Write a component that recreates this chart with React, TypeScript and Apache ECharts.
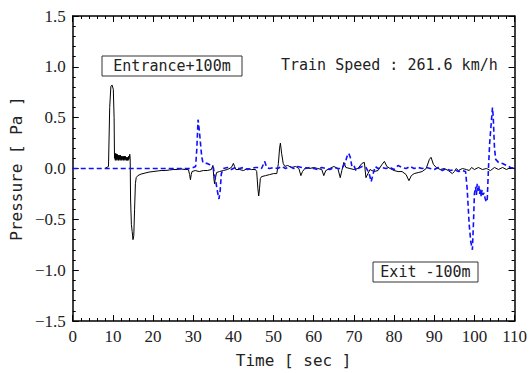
import React, { useEffect, useRef } from "react";
import * as echarts from "echarts";

// Entrance +100m (black solid) : [time sec, pressure Pa]
const entranceSeries: [number, number][] = [
  [8, 0], [8.9, 0.02], [9.2, 0.6], [9.5, 0.81], [9.8, 0.82], [10.1, 0.78], [10.3, 0.5], [10.4, 0.1],
  [10.5, 0.14], [10.6, 0.08], [10.7, 0.15], [10.8, 0.09], [10.9, 0.14], [11.0, 0.08], [11.1, 0.14], [11.2, 0.09],
  [11.3, 0.13], [11.4, 0.08], [11.5, 0.13], [11.6, 0.09], [11.7, 0.13], [11.8, 0.08], [11.9, 0.13], [12.0, 0.09],
  [12.1, 0.12], [12.2, 0.08], [12.3, 0.12], [12.4, 0.09], [12.5, 0.12], [12.6, 0.08], [12.7, 0.12], [12.8, 0.09],
  [12.9, 0.12], [13.0, 0.08], [13.1, 0.12], [13.2, 0.09], [13.3, 0.11], [13.4, 0.08], [13.5, 0.11], [13.6, 0.08],
  [13.7, 0.11], [13.8, 0.08], [13.9, 0.12], [14.0, 0.09], [14.2, 0.14], [14.3, 0.1],
  [14.4, -0.3], [14.6, -0.55], [14.8, -0.62], [15.0, -0.7], [15.2, -0.66], [15.4, -0.4], [15.6, -0.15],
  [15.8, -0.09], [16.2, -0.07], [17, -0.055], [18, -0.045], [19, -0.035], [20, -0.03], [21, -0.025],
  [22, -0.02], [23, -0.02], [24, -0.015], [25, -0.01], [26, -0.01], [27, -0.005], [28, -0.01], [28.8, -0.01],
  [29.1, -0.06], [29.3, -0.11], [29.5, -0.06], [29.7, -0.03], [30.5, -0.02], [31.5, -0.03], [32.5, -0.02],
  [33.5, -0.02], [34.5, -0.01], [34.9, 0.03], [35.1, -0.08], [35.3, -0.15], [35.5, -0.1], [35.8, -0.04],
  [36.5, -0.03], [37.5, -0.02], [38.5, -0.01], [39.5, 0.01], [40, 0.05], [40.3, 0.02], [40.6, -0.01],
  [41.5, -0.01], [42.5, -0.02], [43.5, 0], [44.5, -0.01], [45.5, -0.01], [45.8, -0.03], [46.1, -0.2],
  [46.3, -0.27], [46.5, -0.2], [46.7, -0.1], [47, -0.08], [48, -0.07], [49, -0.06], [50, -0.05], [50.8, -0.05],
  [51.2, 0.05], [51.5, 0.2], [51.7, 0.25], [52, 0.15], [52.4, 0.05], [52.8, 0.02], [53.5, 0.03], [54.5, 0.01],
  [55.5, 0.02], [56.3, 0], [56.8, -0.07], [57.2, -0.03], [58, 0.01], [59, 0], [60, 0.01], [61, 0], [62, -0.01],
  [62.5, -0.07], [63, -0.02], [64, 0], [65, 0.02], [66, 0], [66.6, -0.09], [67, -0.02], [67.5, 0.06], [68, 0.01],
  [69, 0], [70, -0.01], [71, 0], [72, 0.05], [72.6, 0.06], [73, -0.09], [73.5, -0.05], [74, -0.01], [75, -0.03],
  [76, -0.02], [77, 0.04], [77.6, 0.07], [78.2, 0.02], [79, 0], [80, -0.02], [81, -0.03], [82, -0.03],
  [83, -0.06], [83.7, -0.12], [84.3, -0.07], [85, -0.05], [86, -0.04], [87, -0.03], [88, 0], [88.8, 0.09],
  [89.2, 0.11], [89.8, 0.04], [90.5, 0.01], [91.5, -0.01], [92.5, 0], [93.5, -0.02], [94.5, -0.05], [95, -0.03],
  [95.5, 0], [96, -0.02], [97, 0], [98, -0.01], [98.7, -0.02], [99.3, 0.01], [100, -0.01], [101, 0.01],
  [102, -0.01], [103, 0], [104, -0.02], [105, 0.01], [106, -0.01], [107, 0.01], [108, -0.01], [109, 0.01], [110, 0],
];

// Exit -100m (blue dashed) : [time sec, pressure Pa]
const exitSeries: [number, number][] = [
  [0, 0], [29, 0], [30, 0.01], [30.6, 0.02], [30.9, 0.2], [31.2, 0.48], [31.5, 0.38], [31.8, 0.25], [32.1, 0.12],
  [32.4, 0.06], [33, 0.05], [33.5, 0.05], [34, 0.04], [34.5, 0.03], [35, 0.01], [35.5, -0.1], [36, -0.22],
  [36.4, -0.3], [36.7, -0.22], [37, -0.05], [37.5, 0.0], [38.5, 0.01], [39.5, -0.01], [40.5, 0.01], [41.5, 0],
  [42.5, 0.01], [43.5, -0.01], [44.5, 0], [45.5, 0.01], [46.5, 0.01], [47, 0.0], [47.8, 0.07], [48.3, 0.01],
  [49, 0], [50, 0.01], [51, 0.0], [52, 0.02], [53, 0.0], [54, 0.02], [55, 0.0], [56, 0.02], [57, 0.01], [58, 0.0],
  [59, 0.01], [60, 0.0], [61, -0.01], [62, 0.01], [63, 0], [64, -0.01], [65, 0.01], [66, 0.0], [67, 0.0],
  [67.8, 0.05], [68.3, 0.12], [68.7, 0.15], [69.1, 0.11], [69.5, 0.02], [70, 0.03], [70.5, -0.02], [71, 0],
  [72, 0.02], [73, 0.01], [73.8, -0.05], [74.3, -0.13], [74.8, -0.05], [75.3, 0.02], [76, 0.0], [77, 0.01],
  [78, 0.0], [79, 0.01], [80, -0.01], [81, 0.03], [82, 0.01], [83, 0], [84, 0.02], [85, 0.0], [86, 0.01],
  [87, 0.0], [88, 0.01], [89, 0], [90, -0.01], [91, 0.01], [92, -0.02], [93, 0.0], [94, -0.02], [95, -0.01],
  [96, -0.03], [97, -0.02], [97.8, -0.03], [98.2, -0.2], [98.7, -0.55], [99.1, -0.72], [99.5, -0.8],
  [99.8, -0.5], [100, -0.25], [100.3, -0.18], [100.5, -0.26], [100.7, -0.15], [100.9, -0.22], [101.1, -0.17],
  [101.3, -0.25], [101.5, -0.2], [101.7, -0.28], [101.9, -0.21], [102.1, -0.26], [102.4, -0.24], [102.7, -0.3],
  [103, -0.33], [103.2, -0.3], [103.5, 0.0], [103.8, 0.25], [104.2, 0.45], [104.5, 0.6], [104.7, 0.5],
  [105, 0.2], [105.3, 0.09], [106, 0.06], [107, 0.05], [108, 0.03], [109, 0.01], [110, 0],
];

const xRange = { min: 0, max: 110, interval: 10 };
const yRange = { min: -1.5, max: 1.5, interval: 0.5 };
const labels = {
  entrance: "Entrance+100m",
  exit: "Exit -100m",
  speed: "Train Speed : 261.6 km/h",
  xName: "Time [ sec ]",
  yName: "Pressure [ Pa ]",
};

const MONO = "DejaVu Sans Mono";
const SERIF = "Liberation Serif";

export default function App() {
  const ref = useRef<HTMLDivElement>(null);
  useEffect(() => {
    if (!ref.current) return;
    const chart = echarts.init(ref.current, undefined, { renderer: "svg" });
    const axisCommon = {
      type: "value" as const,
      axisLine: { show: true, onZero: false, lineStyle: { color: "#000", width: 1.5 } },
      axisTick: { show: true, inside: true, length: 6, lineStyle: { color: "#000", width: 1 } },
      minorTick: { show: true, splitNumber: 5, length: 3, lineStyle: { color: "#000", width: 1 } },
      splitLine: { show: false },
    };
    chart.setOption({
      animation: false,
      backgroundColor: "#fff",
      grid: { left: 72, right: 13, top: 16, bottom: 50 },
      xAxis: [
        {
          ...axisCommon,
          ...xRange,
          position: "bottom",
          axisLabel: { color: "#222", fontFamily: SERIF, fontSize: 17, margin: 7 },
          name: labels.xName,
          nameLocation: "middle",
          nameGap: 31,
          nameTextStyle: { color: "#222", fontFamily: MONO, fontSize: 16 },
        },
        { ...axisCommon, ...xRange, position: "top", axisLabel: { show: false } },
      ],
      yAxis: [
        {
          ...axisCommon,
          ...yRange,
          position: "left",
          axisLabel: {
            color: "#222",
            fontFamily: SERIF,
            fontSize: 17,
            margin: 7,
            formatter: (v: number) => (v < 0 ? "\u2212" + Math.abs(v).toFixed(1) : v.toFixed(1)),
          },
          name: labels.yName,
          nameLocation: "middle",
          nameGap: 46,
          nameTextStyle: { color: "#222", fontFamily: MONO, fontSize: 16 },
        },
        { ...axisCommon, ...yRange, position: "right", axisLabel: { show: false } },
      ],
      series: [
        {
          type: "line",
          data: entranceSeries,
          showSymbol: false,
          lineStyle: { color: "#000", width: 1 },
          itemStyle: { color: "#000" },
          z: 2,
        },
        {
          type: "line",
          data: exitSeries,
          showSymbol: false,
          lineStyle: { color: "#1010ff", width: 1.6, type: [5, 3] },
          itemStyle: { color: "#1010ff" },
          z: 3,
        },
      ],
      graphic: [
        {
          type: "rect",
          shape: { x: 102, y: 56, width: 140, height: 20 },
          style: { fill: "#fff", stroke: "#333", lineWidth: 1 },
          z: 10,
        },
        {
          type: "text",
          x: 172,
          y: 66,
          style: { text: labels.entrance, fontFamily: MONO, fontSize: 15, fill: "#222", align: "center", verticalAlign: "middle" },
          z: 11,
        },
        {
          type: "text",
          x: 281,
          y: 65,
          style: { text: labels.speed, fontFamily: MONO, fontSize: 15, fill: "#222", align: "left", verticalAlign: "middle" },
          z: 11,
        },
        {
          type: "rect",
          shape: { x: 373, y: 262, width: 105, height: 20 },
          style: { fill: "#fff", stroke: "#333", lineWidth: 1 },
          z: 10,
        },
        {
          type: "text",
          x: 425.5,
          y: 272,
          style: { text: labels.exit, fontFamily: MONO, fontSize: 15, fill: "#222", align: "center", verticalAlign: "middle" },
          z: 11,
        },
      ],
    });
    return () => chart.dispose();
  }, []);
  return <div ref={ref} style={{ width: 530, height: 373, position: "absolute", left: 0, top: 0 }} />;
}
